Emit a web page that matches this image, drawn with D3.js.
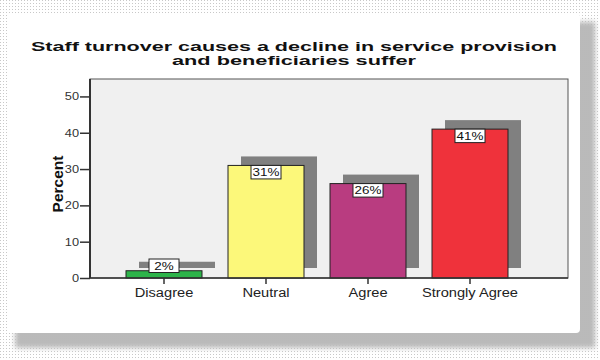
<!DOCTYPE html>
<html>
<head>
<meta charset="utf-8">
<script src="https://cdn.jsdelivr.net/npm/d3@7/dist/d3.min.js"></script>
<style>
  html, body { margin: 0; padding: 0; background: #fff; }
  svg { display: block; }
</style>
</head>
<body>
<svg id="chart" width="600" height="360"></svg>
<script>
// Survey response shares (percent)
const categories = ["Disagree", "Neutral", "Agree", "Strongly Agree"];
const percents = [2, 31, 26, 41];
const barColors = ["#2db44a", "#fcf87a", "#b93c80", "#ef323b"];
const yTicks = [0, 10, 20, 30, 40, 50];
const titleLines = ["Staff turnover causes a decline in service provision", "and beneficiaries suffer"];

const svg = d3.select("#chart");
const W = 600, H = 360;
const font = "'Liberation Sans', Arial, sans-serif";

// Wide lettering: text is stretched horizontally by this factor
const stretch = 1.22;
function widen(sel) {
  sel.each(function () {
    const len = this.getComputedTextLength();
    d3.select(this).attr("textLength", len * stretch).attr("lengthAdjust", "spacingAndGlyphs");
  });
}

// Halftone patterns for the page background and the card's shadow
const defs = svg.append("defs");
const light = defs.append("pattern").attr("id", "dotsLight")
  .attr("width", 3).attr("height", 3).attr("patternUnits", "userSpaceOnUse");
light.append("rect").attr("width", 3).attr("height", 3).attr("fill", "#fff");
light.append("rect").attr("width", 1).attr("height", 1).attr("fill", "#c8c8c8");
const dark = defs.append("pattern").attr("id", "dotsDark")
  .attr("width", 2).attr("height", 2).attr("patternUnits", "userSpaceOnUse");
dark.append("rect").attr("width", 2).attr("height", 2).attr("fill", "#b8b8b8");
dark.append("rect").attr("width", 1).attr("height", 1).attr("fill", "#8a8a8a");
dark.append("rect").attr("x", 1).attr("y", 1).attr("width", 1).attr("height", 1).attr("fill", "#e0e0e0");
defs.append("filter").attr("id", "soft").attr("x", "-10%").attr("y", "-10%").attr("width", "120%").attr("height", "120%")
  .append("feGaussianBlur").attr("stdDeviation", 2.5);

svg.append("rect").attr("width", W).attr("height", H).attr("fill", "url(#dotsLight)");
svg.append("rect").attr("x", 15).attr("y", 22).attr("width", 580).attr("height", 326)
  .attr("fill", "url(#dotsDark)").attr("filter", "url(#soft)");
svg.append("rect").attr("x", 7).attr("y", 13).attr("width", 573).attr("height", 320)
  .attr("rx", 4).attr("fill", "#fff");

// Title
const titleWidths = [526, 244];
titleLines.forEach((t, i) => {
  svg.append("text")
    .attr("x", 294).attr("y", 51 + i * 14)
    .attr("text-anchor", "middle")
    .attr("font-family", font).attr("font-weight", "bold").attr("font-size", 13.5)
    .attr("fill", "#111")
    .attr("textLength", titleWidths[i]).attr("lengthAdjust", "spacingAndGlyphs")
    .text(t);
});

// Plot frame
const frame = { left: 90, right: 568, top: 79, bottom: 278 };
const y = d3.scaleLinear().domain([0, 54.8]).range([frame.bottom, frame.top]);
const x = d3.scaleBand().domain(categories)
  .range([100, 534]).paddingInner(0.255).paddingOuter(0.255);

svg.append("rect")
  .attr("x", frame.left).attr("y", frame.top)
  .attr("width", frame.right - frame.left).attr("height", frame.bottom - frame.top)
  .attr("fill", "#f0f0f0").attr("stroke", "#555").attr("stroke-width", 1);

// Depth shadows behind each bar
const depthX = 13, depthY = 9;
svg.append("g").selectAll("rect").data(categories).join("rect")
  .attr("x", d => x(d) + depthX)
  .attr("y", (d, i) => y(percents[i]) - depthY)
  .attr("width", x.bandwidth())
  .attr("height", (d, i) => Math.max(0, (y(0) - 10) - (y(percents[i]) - depthY)))
  .attr("fill", "#808080");

// Bars
svg.append("g").selectAll("rect").data(categories).join("rect")
  .attr("x", d => x(d))
  .attr("y", (d, i) => y(percents[i]))
  .attr("width", x.bandwidth())
  .attr("height", (d, i) => y(0) - y(percents[i]))
  .attr("fill", (d, i) => barColors[i])
  .attr("stroke", "#222").attr("stroke-width", 1);

// Axes
const yAxis = svg.append("g").attr("transform", `translate(${frame.left},0)`)
  .call(d3.axisLeft(y).tickValues(yTicks).tickSize(10).tickPadding(1));
yAxis.select(".domain").attr("stroke", "#333").attr("stroke-width", 2)
  .attr("d", `M0,${frame.top}V${frame.bottom}`);
yAxis.selectAll(".tick line").attr("stroke", "#333").attr("stroke-width", 1.5);
yAxis.selectAll(".tick text").attr("font-family", font).attr("font-size", 10.5).attr("fill", "#333")
  .call(widen);

const xAxis = svg.append("g").attr("transform", `translate(0,${frame.bottom})`)
  .call(d3.axisBottom(x).tickSize(6).tickPadding(4));
xAxis.select(".domain").attr("stroke", "#333").attr("stroke-width", 1.5)
  .attr("d", `M${frame.left},0H${frame.right}`);
xAxis.selectAll(".tick line").attr("stroke", "#333").attr("stroke-width", 1.5);
xAxis.selectAll(".tick text").attr("font-family", font).attr("font-size", 12).attr("fill", "#222")
  .call(widen);

// Value labels in white boxes at the top of each bar
const labels = svg.append("g").selectAll("g").data(categories).join("g")
  .attr("transform", (d, i) => {
    const top = Math.min(y(percents[i]), y(0) - 19);
    return `translate(${x(d) + x.bandwidth() / 2},${top})`;
  });
labels.append("rect")
  .attr("x", -15).attr("y", 0).attr("width", 30).attr("height", 13.5)
  .attr("fill", "#fff").attr("stroke", "#222").attr("stroke-width", 1);
labels.append("text")
  .attr("text-anchor", "middle").attr("y", 10.5)
  .attr("font-family", font).attr("font-size", 11).attr("fill", "#111")
  .text((d, i) => percents[i] + "%")
  .call(widen);

// Y axis title
svg.append("text")
  .attr("transform", "translate(63,184) rotate(-90)")
  .attr("text-anchor", "middle")
  .attr("font-family", font).attr("font-weight", "bold").attr("font-size", 15.5)
  .attr("fill", "#111")
  .text("Percent");
</script>
</body>
</html>
